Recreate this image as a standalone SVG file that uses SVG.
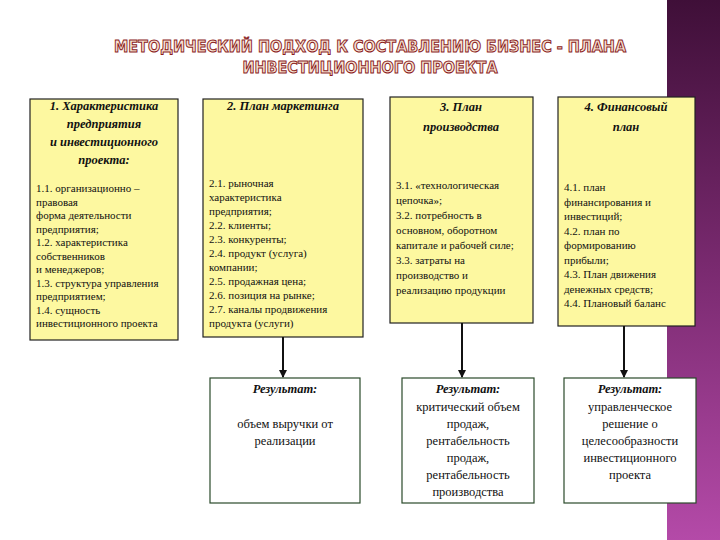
<svg xmlns="http://www.w3.org/2000/svg" width="720" height="540" viewBox="0 0 720 540">
<defs>
<linearGradient id="band" x1="0" y1="0" x2="0" y2="1"><stop offset="0" stop-color="#3f0f38"/><stop offset="0.5" stop-color="#7a2a70"/><stop offset="1" stop-color="#b44aa8"/></linearGradient>
<marker id="ah" markerWidth="8" markerHeight="8" refX="7" refY="4" orient="auto" markerUnits="userSpaceOnUse"><path d="M0,0 L8,4 L0,8 Z" fill="#111"/></marker>
<style>
.box{fill:#fdf8a0;stroke:#222;stroke-width:1.2}
.res{fill:#fff;stroke:#2a4a2a;stroke-width:1.2}
.h{font-family:"Liberation Serif",serif;font-size:12.5px;font-weight:bold;font-style:italic;text-anchor:middle;fill:#111}
.b{font-family:"Liberation Serif",serif;font-size:11px;fill:#111}
.r{font-family:"Liberation Serif",serif;font-size:12.5px;text-anchor:middle;fill:#111}
.t{font-family:"DejaVu Sans Condensed","Liberation Sans",sans-serif;font-size:16px;font-weight:bold;text-anchor:middle;fill:#f7e2d2;stroke:#8a1c1c;stroke-width:0.9}
.c{stroke:#111;stroke-width:2;fill:none}
</style>
</defs>
<rect width="720" height="540" fill="#fff"/>
<rect x="667" y="0" width="53" height="540" fill="url(#band)"/>
<g id="title">
<text class="t" x="370" y="52">МЕТОДИЧЕСКИЙ ПОДХОД К СОСТАВЛЕНИЮ БИЗНЕС - ПЛАНА</text>
<text class="t" x="370" y="73">ИНВЕСТИЦИОННОГО ПРОЕКТА</text>
</g>
<g id="box1">
<rect class="box" x="30" y="99" width="148" height="241"/>
<text class="h" x="104" y="110">1. Характеристика</text>
<text class="h" x="104" y="128">предприятия</text>
<text class="h" x="104" y="146">и инвестиционного</text>
<text class="h" x="104" y="164">проекта:</text>
<text class="b" x="36" y="192">1.1. организационно –</text>
<text class="b" x="36" y="205.5">правовая</text>
<text class="b" x="36" y="219">форма деятельности</text>
<text class="b" x="36" y="232.5">предприятия;</text>
<text class="b" x="36" y="246">1.2. характеристика</text>
<text class="b" x="36" y="259.5">собственников</text>
<text class="b" x="36" y="273">и менеджеров;</text>
<text class="b" x="36" y="286.5">1.3. структура управления</text>
<text class="b" x="36" y="300">предприятием;</text>
<text class="b" x="36" y="313.5">1.4. сущность</text>
<text class="b" x="36" y="327">инвестиционного проекта</text>
</g>
<g id="box2">
<rect class="box" x="203" y="99" width="160" height="238"/>
<text class="h" x="283" y="110">2. План маркетинга</text>
<text class="b" x="209" y="187">2.1. рыночная</text>
<text class="b" x="209" y="201">характеристика</text>
<text class="b" x="209" y="215"> предприятия;</text>
<text class="b" x="209" y="229">2.2. клиенты;</text>
<text class="b" x="209" y="243">2.3. конкуренты;</text>
<text class="b" x="209" y="257">2.4. продукт (услуга)</text>
<text class="b" x="209" y="271">компании;</text>
<text class="b" x="209" y="285">2.5. продажная цена;</text>
<text class="b" x="209" y="299">2.6. позиция на рынке;</text>
<text class="b" x="209" y="313">2.7. каналы продвижения</text>
<text class="b" x="209" y="327">продукта (услуги)</text>
</g>
<g id="box3">
<rect class="box" x="390" y="97" width="143" height="226"/>
<text class="h" x="461" y="111">3. План</text>
<text class="h" x="461" y="131">производства</text>
<text class="b" x="396" y="189">3.1. «технологическая</text>
<text class="b" x="396" y="204">цепочка»;</text>
<text class="b" x="396" y="219">3.2. потребность в</text>
<text class="b" x="396" y="234">основном, оборотном</text>
<text class="b" x="396" y="249">капитале и рабочей силе;</text>
<text class="b" x="396" y="264">3.3. затраты на</text>
<text class="b" x="396" y="279">производство и</text>
<text class="b" x="396" y="294">реализацию продукции</text>
</g>
<g id="box4">
<rect class="box" x="558" y="97" width="137" height="229"/>
<text class="h" x="626" y="111">4. Финансовый</text>
<text class="h" x="626" y="131">план</text>
<text class="b" x="564" y="191">4.1. план</text>
<text class="b" x="564" y="205.5">финансирования и</text>
<text class="b" x="564" y="220">инвестиций;</text>
<text class="b" x="564" y="234.5">4.2. план по</text>
<text class="b" x="564" y="249">формированию</text>
<text class="b" x="564" y="263.5">прибыли;</text>
<text class="b" x="564" y="278">4.3. План движения</text>
<text class="b" x="564" y="292.5">денежных средств;</text>
<text class="b" x="564" y="307">4.4. Плановый баланс</text>
</g>
<g id="res1">
<rect class="res" x="210" y="378" width="150" height="125"/>
<text class="h" x="285" y="393">Результат:</text>
<text class="r" x="285" y="428">объем выручки от</text>
<text class="r" x="285" y="445">реализации</text>
</g>
<g id="res2">
<rect class="res" x="402" y="378" width="132" height="125"/>
<text class="h" x="468" y="393">Результат:</text>
<text class="r" x="468" y="411">критический объем</text>
<text class="r" x="468" y="428">продаж,</text>
<text class="r" x="468" y="445">рентабельность</text>
<text class="r" x="468" y="462">продаж,</text>
<text class="r" x="468" y="479">рентабельность</text>
<text class="r" x="468" y="496">производства</text>
</g>
<g id="res3">
<rect class="res" x="564" y="378" width="132" height="125"/>
<text class="h" x="630" y="393">Результат:</text>
<text class="r" x="630" y="411">управленческое</text>
<text class="r" x="630" y="428">решение о</text>
<text class="r" x="630" y="445">целесообразности</text>
<text class="r" x="630" y="462">инвестиционного</text>
<text class="r" x="630" y="479">проекта</text>
</g>
<g id="connectors">
<line class="c" x1="283" y1="337" x2="283" y2="377" marker-end="url(#ah)"/>
<line class="c" x1="462" y1="323" x2="462" y2="377" marker-end="url(#ah)"/>
<line class="c" x1="624" y1="326" x2="624" y2="377" marker-end="url(#ah)"/>
</g>
</svg>
